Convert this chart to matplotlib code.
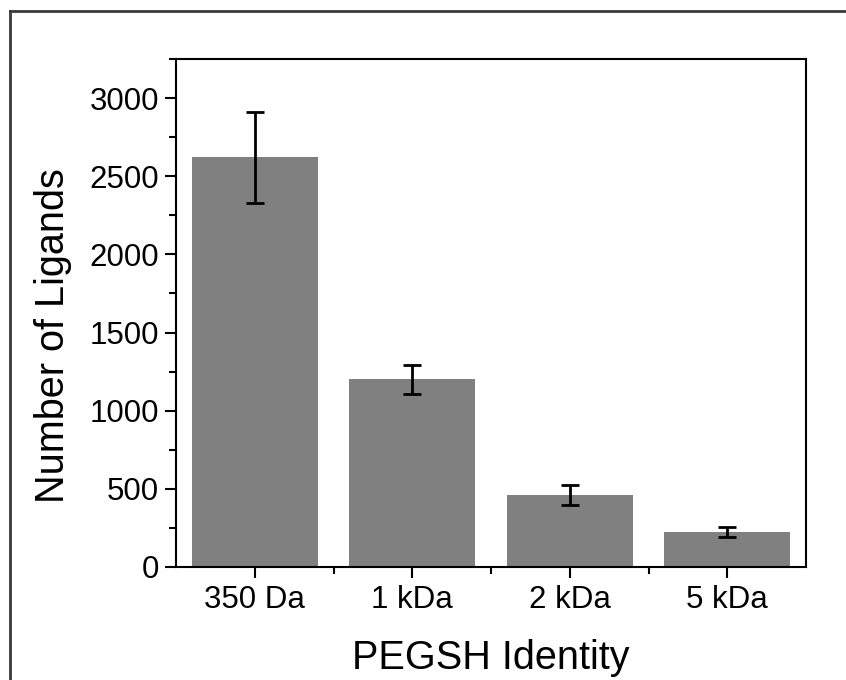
import matplotlib
matplotlib.use("Agg")
import matplotlib.pyplot as plt
from matplotlib.ticker import MultipleLocator, FixedLocator
from matplotlib.lines import Line2D

categories = ["350 Da", "1 kDa", "2 kDa", "5 kDa"]
values = [2620, 1200, 461, 227]
errors = [290, 92, 62, 32]

plt.rcParams['font.family'] = ['Liberation Sans', 'DejaVu Sans']

fig = plt.figure(figsize=(8.46, 6.8), dpi=100)
ax = fig.add_axes([176/846, 1-567/680, (806-176)/846, (567-59)/680])

x = list(range(len(categories)))
ax.bar(x, values, width=0.8, color="#808080", zorder=2)
ax.errorbar(x, values, yerr=errors, fmt="none", ecolor="black",
            elinewidth=2, capsize=6.5, capthick=2, zorder=3)

ax.set_xlim(-0.5, 3.5)
ax.set_ylim(0, 3250)
ax.set_xticks(x)
ax.set_xticklabels(categories)
ax.xaxis.set_minor_locator(FixedLocator([0.5, 1.5, 2.5]))
ax.yaxis.set_major_locator(MultipleLocator(500))
ax.yaxis.set_minor_locator(MultipleLocator(250))

for s in ax.spines.values():
    s.set_linewidth(1.5)
ax.tick_params(which="both", direction="out", top=False, right=False, width=1.5)
ax.tick_params(which="major", length=8, labelsize=22.5, pad=5)
ax.tick_params(which="minor", length=5)
ax.tick_params(axis="y", which="major", pad=4)

ax.set_xlabel("PEGSH Identity", fontsize=28.5, labelpad=17)
ax.set_ylabel("Number of Ligands", fontsize=28.5)
ax.yaxis.set_label_coords(-0.165, 0.455)

# outer frame (left and top edges visible)
fig.add_artist(Line2D([9.5/846, 9.5/846], [0, 1-11/680], transform=fig.transFigure,
                      color="#3a3a3a", linewidth=2))
fig.add_artist(Line2D([9.5/846, 1], [1-11/680, 1-11/680], transform=fig.transFigure,
                      color="#3a3a3a", linewidth=2))

fig.savefig("out.png", dpi=100)
